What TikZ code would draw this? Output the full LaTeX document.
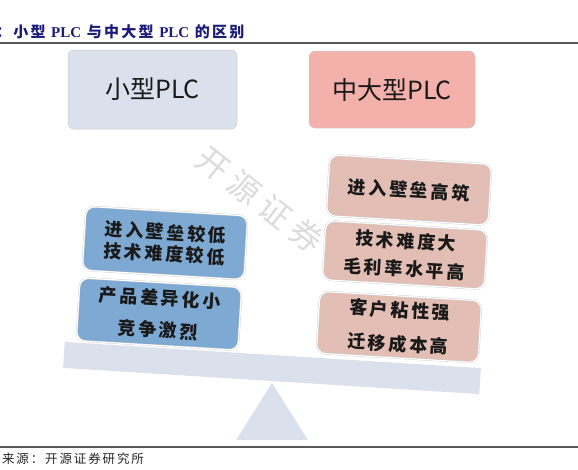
\documentclass[tikz,border=0pt]{standalone}
\usepackage{fontspec}
\setmainfont{Liberation Serif}
\newfontfamily\cjk{Noto Sans CJK SC}
\newfontfamily\cjksp{Noto Sans CJK SC}[LetterSpace=15]
\newfontfamily\cjkwm{Noto Sans CJK SC}[LetterSpace=22]
\usepackage{tikz}
\usetikzlibrary{positioning}

\definecolor{lowfill}{HTML}{7DA9D3}
\definecolor{highfill}{HTML}{E3BEB5}
\definecolor{smallfill}{HTML}{DAE1EC}
\definecolor{largefill}{HTML}{F4B1AC}
\definecolor{beamfill}{HTML}{DAE1EC}
\definecolor{titlenavy}{HTML}{1C1C78}

\begin{document}
\begin{tikzpicture}[
      x=1pt, y=-1pt,
      every node/.style={inner sep=0pt, outer sep=0pt},
      headbox/.style={rectangle, rounded corners=6pt, draw=gray!40, line width=0.5pt,
        text=black!90, font=\cjk\fontsize{25}{28}\selectfont},
      tiltbox/.style={rectangle, rounded corners=9pt, draw=gray!45, double=white,
        double distance=1.2pt, line width=0.3pt, align=center, text=black!90,
        minimum width=162pt, rotate=-3.4},
      lowbox/.style={tiltbox, fill=lowfill},
      highbox/.style={tiltbox, fill=highfill},
      rule/.style={draw=gray!70!black, line width=1.3pt}
    ]
      \useasboundingbox (0,0) rectangle (578,469);

      % title and rules
      \node[anchor=base west, text=titlenavy] (title) at (-4,37)
        {\cjksp\fontsize{15}{17}\selectfont\bfseries ：小型 {\rmfamily PLC} 与中大型 {\rmfamily PLC} 的区别};
      \coordinate (rtl) at (0,43);
      \coordinate (rtr) at (578,43);
      \draw[rule] (rtl) -- (rtr);
      \coordinate (rbl) at (0,447);
      \coordinate (rbr) at (578,447);
      \draw[rule] (rbl) -- (rbr);

      % header boxes
      \node[headbox, fill=smallfill, minimum width=169pt, minimum height=79pt] (small) at (152.5,89.5) {小型PLC};
      \node[headbox, fill=largefill, minimum width=166pt, minimum height=77pt] (large) at (392,89.5) {中大型PLC};

      % watermark
      \node[rotate=-38, text=gray!28] (mark) at (260,200) {\cjkwm\fontsize{32}{32}\selectfont 开源证券};

      % scale
      \coordinate (apex) at (272,383);
      \coordinate (baseL) at (236,440);
      \coordinate (baseR) at (308,440);
      \fill[beamfill] (apex) -- (baseR) -- (baseL) -- cycle;
      \node[fill=beamfill, rotate=-3.6, minimum width=417pt, minimum height=26pt] (beam) at (272,368) {};

      % left pan
      \node[lowbox, minimum height=64pt, font=\cjksp\fontsize{18}{21.5}\selectfont\bfseries] (low1) at (165,243)
        {进入壁垒较低\\技术难度较低};
      \node[lowbox, minimum height=63pt, font=\cjksp\fontsize{18}{32}\selectfont\bfseries] (low2) at (159,314)
        {产品差异化小\\竞争激烈};

      % right pan
      \node[highbox, minimum height=61pt, font=\cjksp\fontsize{18}{21}\selectfont\bfseries] (high1) at (409,190)
        {进入壁垒高筑};
      \node[highbox, minimum height=59pt, font=\cjksp\fontsize{18}{28}\selectfont\bfseries] (high2) at (405,255)
        {技术难度大\\毛利率水平高};
      \node[highbox, minimum height=62pt, font=\cjksp\fontsize{18}{34}\selectfont\bfseries] (high3) at (399,327)
        {客户粘性强\\迁移成本高};

      % source
      \node[anchor=base west, text=black!85] (source) at (2,463)
        {\cjksp\fontsize{12.5}{14}\selectfont 来源：开源证券研究所};
    \end{tikzpicture}
\end{document}
